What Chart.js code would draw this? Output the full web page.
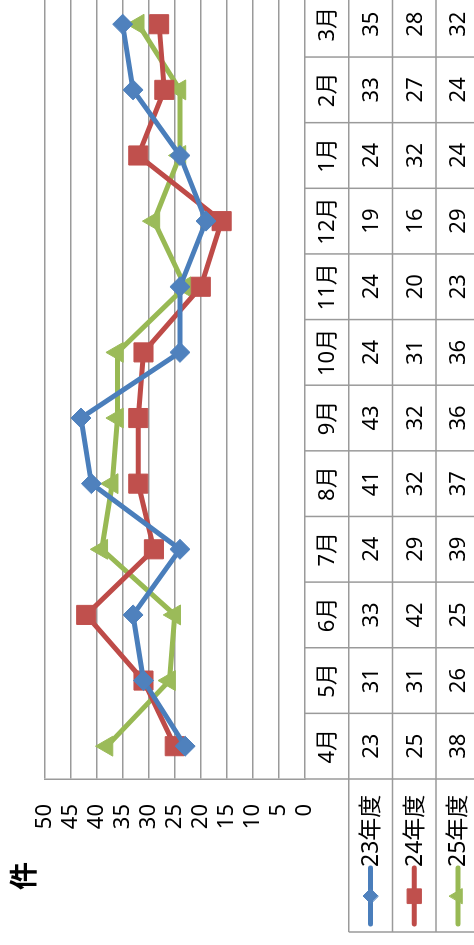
<!DOCTYPE html>
<html lang="ja">
<head>
<meta charset="utf-8">
<script src="https://cdn.jsdelivr.net/npm/chart.js@4.4.1/dist/chart.umd.min.js"></script>
<style>
  html, body { margin: 0; padding: 0; background: #fff; overflow: hidden; width: 474px; height: 945px; }
  /* landscape chart turned on its side to fit the page */
  #wrap { position: absolute; left: 0; top: 0; width: 970px; height: 530px;
          transform-origin: 0 0; transform: translate(-40px, 945px) rotate(-90deg); }
</style>
</head>
<body>
<div id="wrap"><canvas id="monthlyChart" width="970" height="530"></canvas></div>
<script>
const months = ['4月', '5月', '6月', '7月', '8月', '9月', '10月', '11月', '12月', '1月', '2月', '3月'];
const seriesNames = ['23年度', '24年度', '25年度'];
const fy23 = [23, 31, 33, 24, 41, 43, 24, 24, 19, 24, 33, 35];
const fy24 = [25, 31, 42, 29, 32, 32, 31, 20, 16, 32, 27, 28];
const fy25 = [38, 26, 25, 39, 37, 36, 36, 23, 29, 24, 24, 32];
const yMin = 0, yMax = 50, yStep = 5;

const FONT = "'Noto Sans', 'Noto Sans CJK JP', sans-serif";
const GRID = '#9a9a9a';

// Data table under the plot, with legend keys in the first column
const dataTable = {
    id: 'dataTable',
    afterDraw(chart) {
        const { ctx, chartArea, scales: { x } } = chart;
        const rowH = 43.7;
        const top = chartArea.bottom;
        const legendLeft = 13;
        const half = (x.getPixelForValue(1) - x.getPixelForValue(0)) / 2;
        const rows = chart.data.datasets.length + 1;

        ctx.save();
        ctx.strokeStyle = GRID;
        ctx.lineWidth = 1.5;
        for (let r = 1; r <= rows; r++) {
            const yy = top + r * rowH;
            ctx.beginPath();
            ctx.moveTo(legendLeft, yy);
            ctx.lineTo(chartArea.right + 20, yy);
            ctx.stroke();
        }
        for (let i = 0; i <= months.length; i++) {
            const xx = x.getPixelForValue(0) - half + i * half * 2;
            ctx.beginPath();
            ctx.moveTo(xx, top);
            ctx.lineTo(xx, top + rows * rowH);
            ctx.stroke();
        }
        ctx.beginPath();
        ctx.moveTo(legendLeft, top + rowH);
        ctx.lineTo(legendLeft, top + rows * rowH);
        ctx.stroke();

        ctx.fillStyle = '#000';
        ctx.textAlign = 'center';
        ctx.textBaseline = 'middle';
        ctx.font = '22px ' + FONT;
        months.forEach((m, i) => ctx.fillText(m, x.getPixelForValue(i), top + rowH / 2 + 1));
        chart.data.datasets.forEach((ds, r) => {
            const cy = top + (r + 1.5) * rowH + 1;
            ds.data.forEach((v, i) => ctx.fillText(String(v), x.getPixelForValue(i), cy));

            // legend key: short line with marker
            ctx.strokeStyle = ds.borderColor;
            ctx.lineWidth = ds.borderWidth;
            ctx.lineCap = 'round';
            ctx.beginPath();
            ctx.moveTo(21, cy - 1);
            ctx.lineTo(77, cy - 1);
            ctx.stroke();
            ctx.fillStyle = ds.pointBackgroundColor;
            ctx.strokeStyle = ds.pointBorderColor;
            ctx.lineWidth = 1;
            Chart.helpers.drawPoint(ctx, {
                pointStyle: ds.pointStyle, radius: ds.pointRadius * 0.75, rotation: 0, borderWidth: 1
            }, 49, cy - 1);
            ctx.fillStyle = '#000';
            ctx.textAlign = 'left';
            ctx.font = '23px ' + FONT;
            ctx.fillText(seriesNames[r], 78, cy);
            ctx.font = '22px ' + FONT;
            ctx.textAlign = 'center';
        });

        // axis unit and chart title
        ctx.font = 'bold 28px ' + FONT;
        ctx.fillText('件', 69, 66);
        ctx.textBaseline = 'alphabetic';
        ctx.fillText('月別件数の推移（年度別比較）', 480, 35);
        ctx.restore();
    }
};

new Chart(document.getElementById('monthlyChart'), {
    type: 'line',
    data: {
        labels: months,
        datasets: [
            {
                label: seriesNames[0],
                data: fy23,
                borderColor: '#4A7EBB',
                borderWidth: 5,
                pointStyle: 'rectRot',
                pointRadius: 10,
                pointBackgroundColor: '#4F81BD',
                pointBorderColor: '#4F81BD',
                pointBorderWidth: 1
            },
            {
                label: seriesNames[1],
                data: fy24,
                borderColor: '#BE4B48',
                borderWidth: 5,
                pointStyle: 'rect',
                pointRadius: 13.5,
                pointBackgroundColor: '#C0504D',
                pointBorderColor: '#C0504D',
                pointBorderWidth: 1
            },
            {
                label: seriesNames[2],
                data: fy25,
                borderColor: '#98B954',
                borderWidth: 5,
                pointStyle: 'triangle',
                pointRadius: 11.5,
                pointBackgroundColor: '#9BBB59',
                pointBorderColor: '#9BBB59',
                pointBorderWidth: 1
            }
        ]
    },
    options: {
        responsive: false,
        animation: false,
        devicePixelRatio: 1,
        layout: { padding: { top: 84.5, right: 16.4, bottom: 185, left: 0 } },
        plugins: {
            legend: { display: false },
            tooltip: { enabled: false }
        },
        elements: { line: { tension: 0, borderJoinStyle: 'round' } },
        scales: {
            x: {
                type: 'category',
                display: false,
                offset: true
            },
            y: {
                min: yMin,
                max: yMax,
                afterFit(scale) { scale.width = 166; },
                ticks: {
                    stepSize: yStep,
                    autoSkip: false,
                    color: '#000',
                    padding: 25,
                    font: { family: FONT, size: 22 }
                },
                grid: { color: GRID, lineWidth: 1.5, drawTicks: false },
                border: { color: GRID, width: 1.5 }
            }
        }
    },
    plugins: [dataTable]
});
</script>
</body>
</html>
